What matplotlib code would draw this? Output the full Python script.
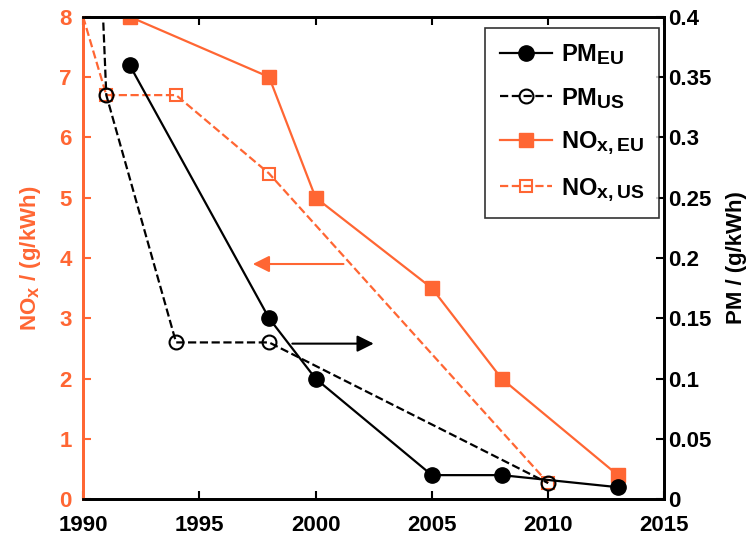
import matplotlib
matplotlib.use("Agg")
import matplotlib.pyplot as plt
try:
    import matplotlib._mathtext as _mt
    _mt.SHRINK_FACTOR = 0.82
except Exception:
    pass

plt.rcParams['font.family'] = ['Liberation Sans', 'DejaVu Sans']
plt.rcParams['font.weight'] = 'bold'
plt.rcParams['mathtext.fontset'] = 'custom'
plt.rcParams['mathtext.rm'] = 'Liberation Sans:bold'
plt.rcParams['mathtext.bf'] = 'Liberation Sans:bold'
plt.rcParams['mathtext.it'] = 'Liberation Sans:bold'

ORANGE = '#FF6633'

# Data
pm_eu_years = [1992, 1998, 2000, 2005, 2008, 2013]
pm_eu = [0.36, 0.15, 0.10, 0.02, 0.02, 0.01]
pm_us_years = [1990, 1991, 1994, 1998, 2010]
pm_us = [0.80, 0.335, 0.13, 0.13, 0.0134]
nox_eu_years = [1992, 1998, 2000, 2005, 2008, 2013]
nox_eu = [8.0, 7.0, 5.0, 3.5, 2.0, 0.4]
nox_us_years = [1990, 1991, 1994, 1998, 2010]
nox_us = [8.0, 6.7, 6.7, 5.4, 0.27]

x_ticks = [1990, 1995, 2000, 2005, 2010, 2015]
nox_ticks = [0, 1, 2, 3, 4, 5, 6, 7, 8]
pm_ticks = [0, 0.05, 0.1, 0.15, 0.2, 0.25, 0.3, 0.35, 0.4]
pm_tick_labels = ['0', '0.05', '0.1', '0.15', '0.2', '0.25', '0.3', '0.35', '0.4']

fig = plt.figure(figsize=(7.55, 5.38), dpi=100)
ax = fig.add_axes([0.110, 0.072, 0.770, 0.897])
ax2 = ax.twinx()

lw = 1.6
l3, = ax.plot(nox_eu_years, nox_eu, '-', color=ORANGE, lw=lw, marker='s', ms=10,
              mfc=ORANGE, mec=ORANGE, label=r'$\mathregular{NO_{x,EU}}$', zorder=3)
l4, = ax.plot(nox_us_years, nox_us, '--', color=ORANGE, lw=lw, marker='s', ms=8,
              mfc='none', mec=ORANGE, mew=1.5, markevery=[1, 2, 3, 4],
              label=r'$\mathregular{NO_{x,US}}$', zorder=3)

l1, = ax2.plot(pm_eu_years, pm_eu, '-', color='black', lw=lw, marker='o', ms=11,
               mfc='black', mec='black', label=r'$\mathregular{PM_{EU}}$', zorder=4)
l2, = ax2.plot(pm_us_years, pm_us, '--', color='black', lw=lw, marker='o', ms=10,
               mfc='none', mec='black', mew=1.5, label=r'$\mathregular{PM_{US}}$', zorder=4)

ax.set_xlim(1990, 2015)
ax.set_ylim(0, 8)
ax2.set_ylim(0, 0.4)
ax.set_xticks(x_ticks)
ax.set_xticklabels([str(t) for t in x_ticks])
ax.set_yticks(nox_ticks)
ax2.set_yticks(pm_ticks)
ax2.set_yticklabels(pm_tick_labels)

ax.tick_params(axis='x', direction='in', top=True, length=6, width=1.5,
               labelsize=16, pad=11, colors='black')
ax.tick_params(axis='y', direction='in', length=6, width=1.5, labelsize=16,
               pad=8, colors=ORANGE)
ax2.tick_params(axis='y', direction='in', length=6, width=1.5, labelsize=16,
                pad=3, colors='black')

for a in (ax, ax2):
    for s in a.spines.values():
        s.set_linewidth(2)
ax2.spines['left'].set_color(ORANGE)
ax.spines['left'].set_color(ORANGE)
ax2.spines['right'].set_color('black')
ax2.spines['top'].set_color('black')
ax2.spines['bottom'].set_color('black')

ax.set_ylabel(r'$\mathregular{NO_x}$ / (g/kWh)', color=ORANGE, fontsize=16,
              fontweight='bold', labelpad=12)
ax2.set_ylabel('PM / (g/kWh)', color='black', fontsize=16, fontweight='bold',
               labelpad=10)

# arrows
ax.annotate('', xy=(1997.3, 3.9), xytext=(2001.2, 3.9),
            arrowprops=dict(arrowstyle='-|>', color=ORANGE, lw=1.5,
                            mutation_scale=25, shrinkA=0, shrinkB=0))
ax2.annotate('', xy=(2002.5, 0.129), xytext=(1999.0, 0.129),
             arrowprops=dict(arrowstyle='-|>', color='black', lw=1.5,
                             mutation_scale=25, shrinkA=0, shrinkB=0))

leg = ax2.legend(handles=[l1, l2, l3, l4], loc='upper right',
                 bbox_to_anchor=(0.990, 0.977), borderaxespad=0, fontsize=17,
                 frameon=True, fancybox=False, edgecolor='black',
                 handlelength=2.2, labelspacing=0.8, borderpad=0.6,
                 handletextpad=0.4)
leg.get_frame().set_linewidth(1.2)

fig.savefig('out.png', dpi=100)
